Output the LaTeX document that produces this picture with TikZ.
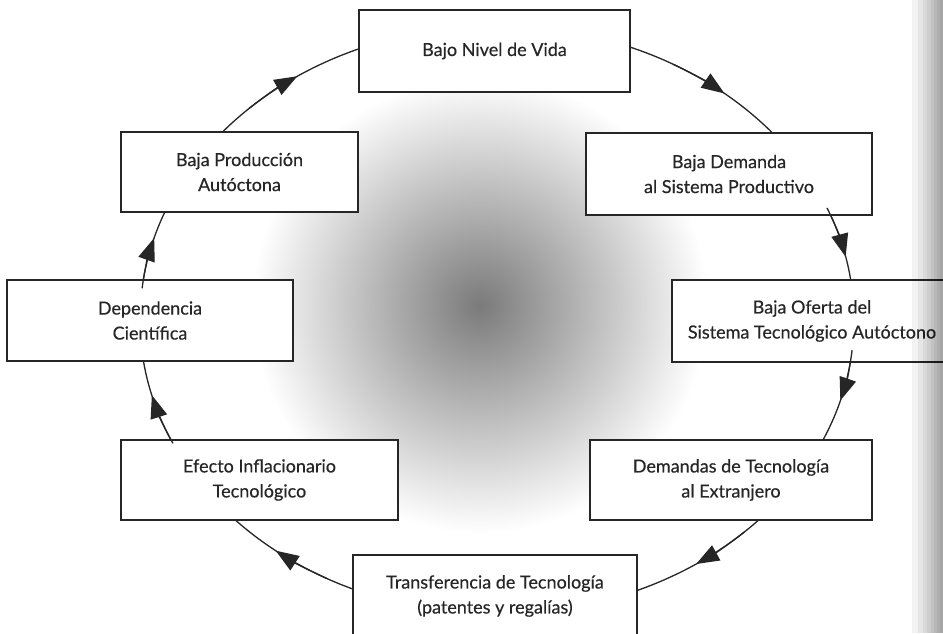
\documentclass[tikz,border=0pt]{standalone}
\usepackage{fontspec}
\setmainfont{Lato}
\newfontfamily\boxfont{Lato}[FakeBold=0.4]
\usetikzlibrary{arrows.meta}
\definecolor{ink}{HTML}{262626}
\tikzset{
  box/.style={draw=ink, line width=1.8pt, fill=white, align=center, text=ink,
    inner sep=0pt, font=\boxfont\fontsize{18}{25}\selectfont},
  ring/.style={draw=ink, line width=1.3pt},
  tipline/.style={draw=ink, line width=1.3pt, -{Triangle[length=23pt,width=17pt]}},
  edgeshade/.style={fill=black, opacity=0.05},
}
\newcommand{\tipat}[1]{%
  \draw[tipline] ({497+357*cos(#1+10)},{313+294*sin(#1+10)})
    arc[start angle=#1+10, end angle=#1, x radius=357, y radius=294];}
\begin{document}
\begin{tikzpicture}[x=1pt,y=1pt]
\useasboundingbox (0,0) rectangle (943,633);
\fill[white] (0,0) rectangle (943,633);
% central grey blot
\shade[inner color=black!52, outer color=white] (480,328) circle (228);
% ring
\draw[ring] (497,313) ellipse [x radius=357, y radius=294];
% boxes
\node[box, minimum width=271pt, minimum height=82pt] (top) at (494.5,582) {Bajo Nivel de Vida};
\node[box, minimum width=286pt, minimum height=82pt] (bd) at (729,459) {Baja Demanda\\al Sistema Productivo};
\node[box, minimum width=280pt, minimum height=82pt] (bo) at (812,312) {Baja Oferta del\\Sistema Tecnológico Autóctono};
\node[box, minimum width=282pt, minimum height=80pt] (dt) at (731,153) {Demandas de Tecnología\\al Extranjero};
\node[box, minimum width=284pt, minimum height=82pt] (tr) at (495,37) {Transferencia de Tecnología\\(patentes y regalías)};
\node[box, minimum width=277pt, minimum height=80pt] (ef) at (259.5,153) {Efecto Inflacionario\\Tecnológico};
\node[box, minimum width=286pt, minimum height=81pt] (dep) at (150,312.5) {Dependencia\\Científica};
\node[box, minimum width=237pt, minimum height=80pt] (bp) at (239.5,461) {Baja Producción\\Autóctona};
% arrow heads along the ring (clockwise flow)
\tipat{50.4}
\tipat{12.4}
\tipat{-15.9}
\tipat{-56.1}
\tipat{-128.3}
\tipat{-165.2}
\tipat{163.8}
\tipat{124}
% darkened right page edge of the scan
\foreach \x in {912,918,923,927,931,934,937,940}
  \fill[edgeshade] (\x,0) rectangle (943,633);
\end{tikzpicture}
\end{document}
